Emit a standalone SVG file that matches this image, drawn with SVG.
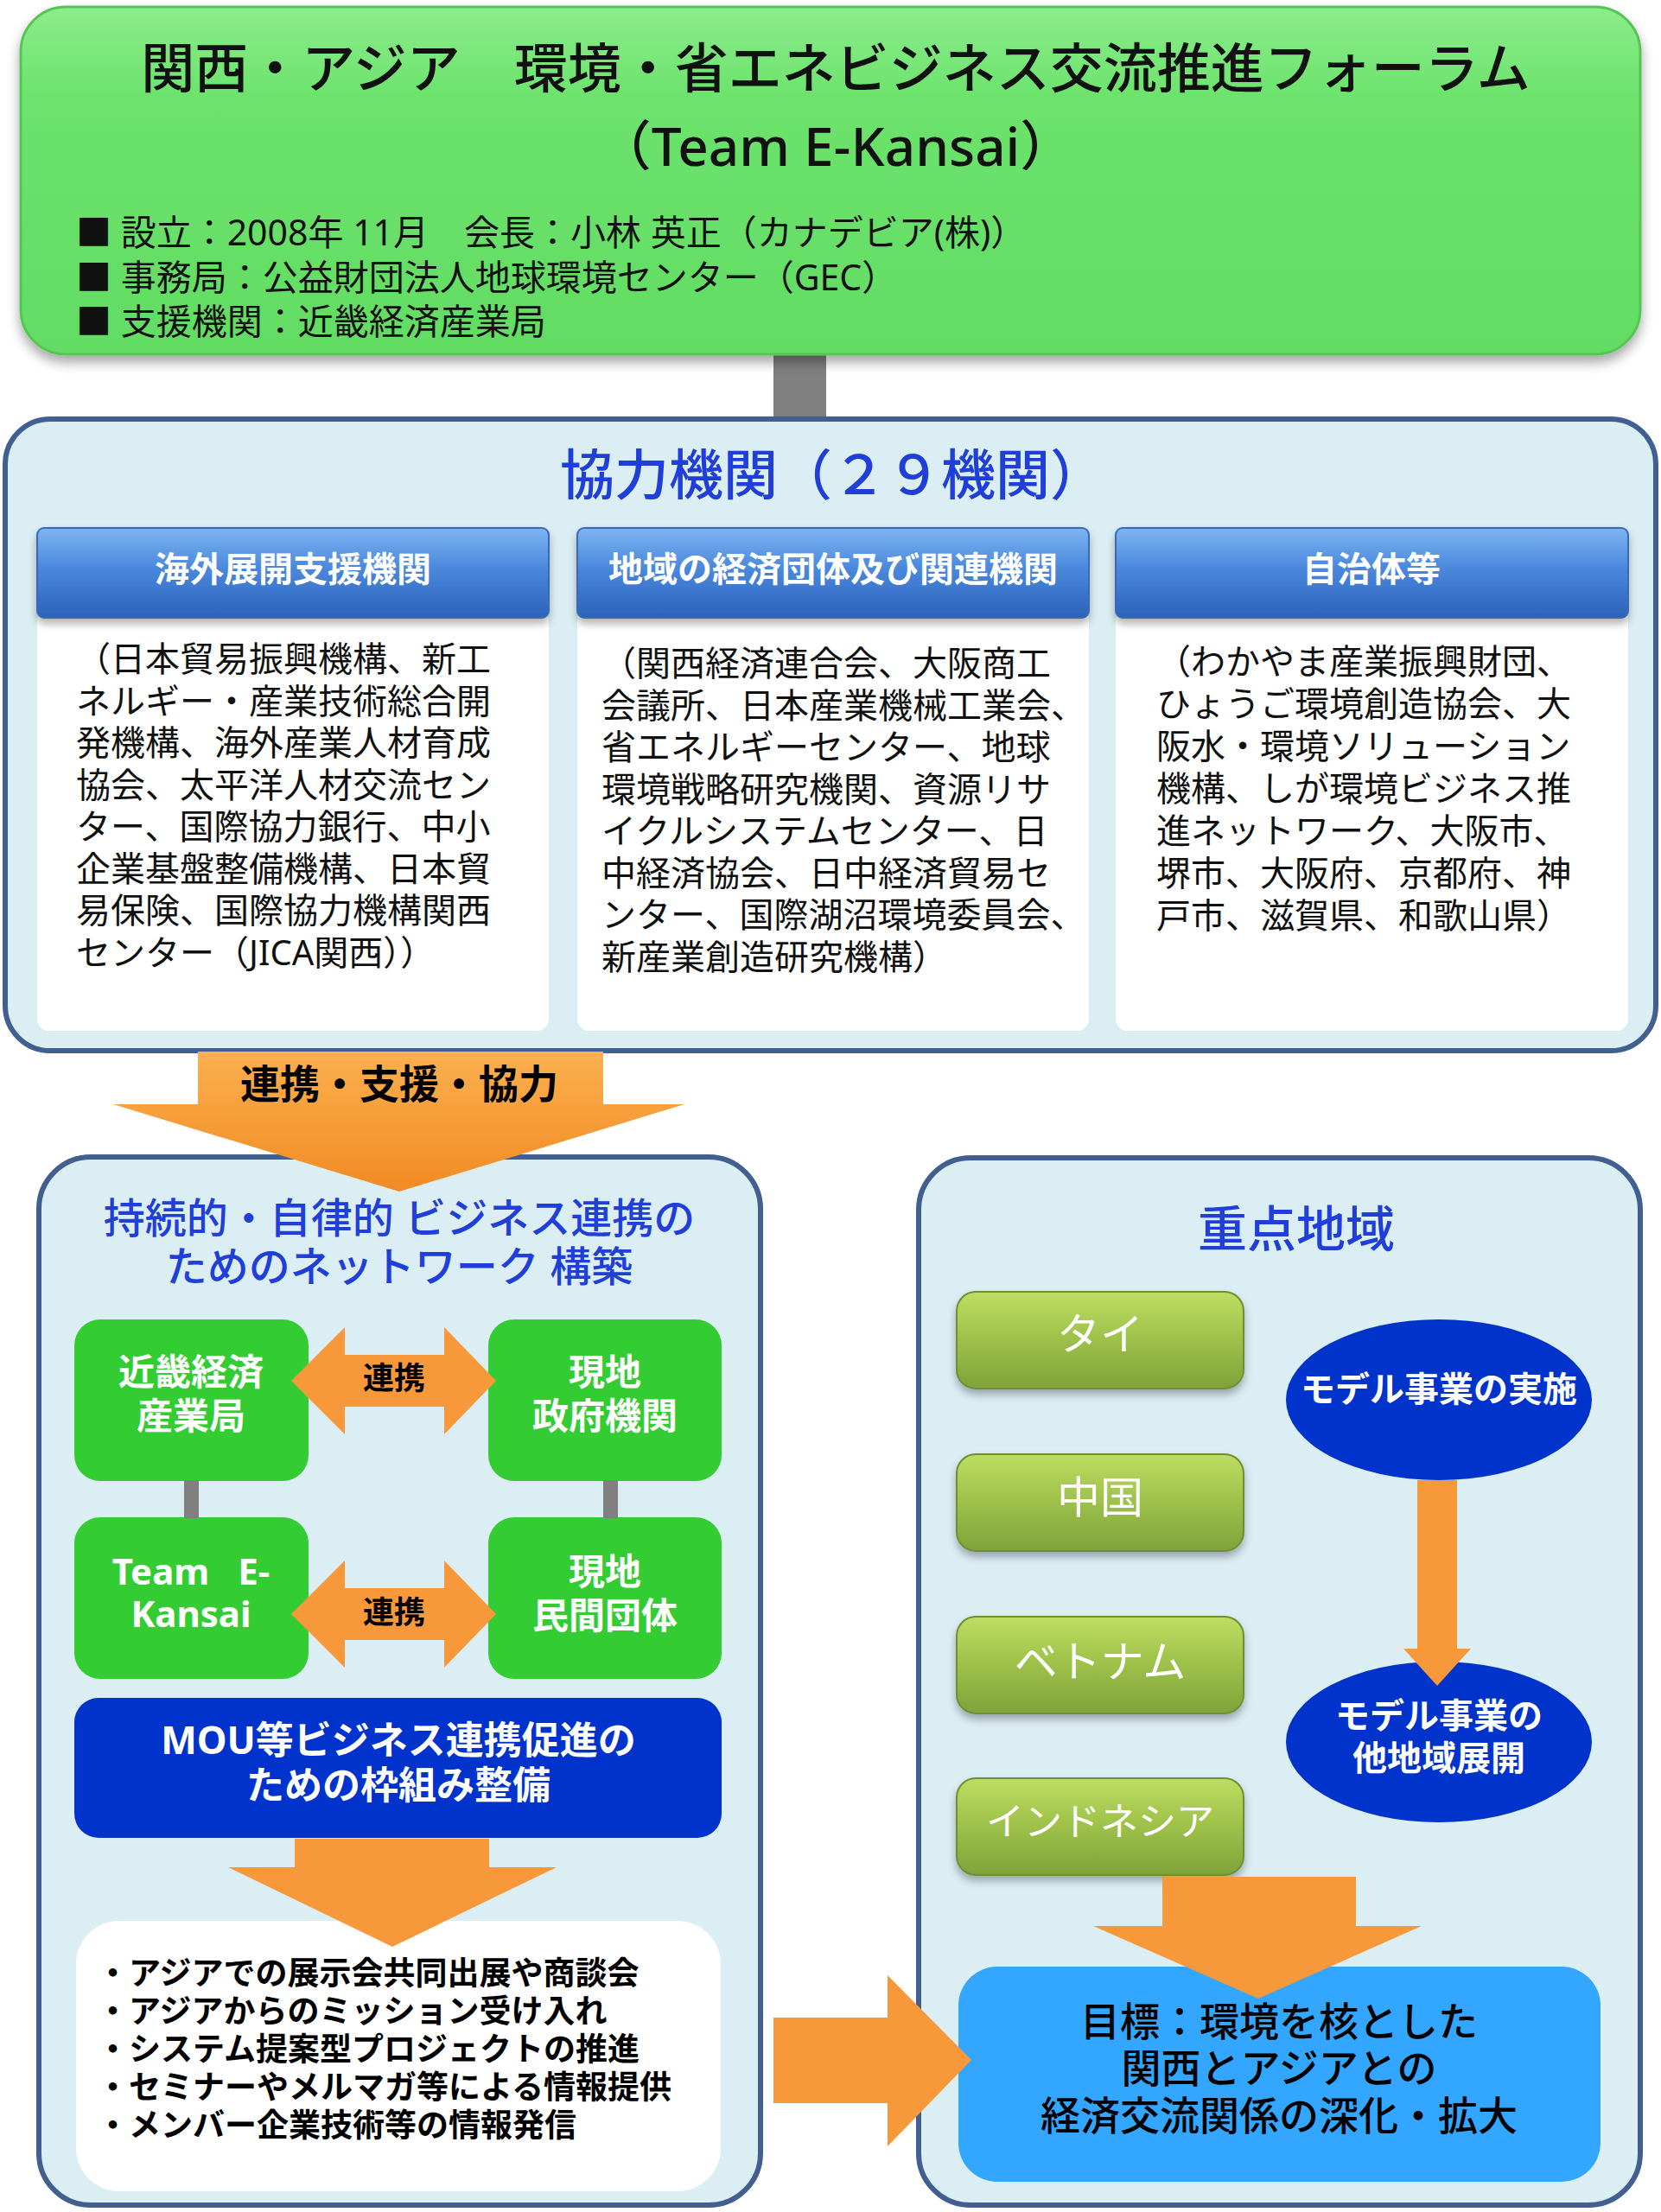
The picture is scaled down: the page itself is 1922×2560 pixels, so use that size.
<svg xmlns="http://www.w3.org/2000/svg" width="1922" height="2560" viewBox="0 0 1922 2560">
<defs>
<style>
.t{font-family:'Noto Sans','Noto Sans CJK JP',sans-serif}
.b{font-weight:bold}
.m{font-weight:500}
.c{text-anchor:middle}
.blue{fill:#1f3fd8}
.w{fill:#ffffff}
.k{fill:#000000}
.cont{fill:#dbeef4;stroke:#41608f;stroke-width:6}
.gbox{fill:#33cc33}
.orange{fill:#f7993a}
.gray{fill:#808080}
.body{fill:#ffffff}
.col{font-size:40px;fill:#111111}
</style>
<linearGradient id="gTop" x1="0" y1="0" x2="0" y2="1">
<stop offset="0" stop-color="#8cec8c"/>
<stop offset="0.25" stop-color="#6de36d"/>
<stop offset="1" stop-color="#62dc62"/>
</linearGradient>
<linearGradient id="gHead" x1="0" y1="0" x2="0" y2="1">
<stop offset="0" stop-color="#7db4f2"/>
<stop offset="0.45" stop-color="#4a88dc"/>
<stop offset="1" stop-color="#2c62bb"/>
</linearGradient>
<linearGradient id="gArrow" x1="0" y1="0" x2="0" y2="1">
<stop offset="0" stop-color="#fbb04f"/>
<stop offset="1" stop-color="#f18a22"/>
</linearGradient>
<linearGradient id="gCountry" x1="0" y1="0" x2="0" y2="1">
<stop offset="0" stop-color="#bedd62"/>
<stop offset="0.4" stop-color="#a3c64d"/>
<stop offset="1" stop-color="#7fa33a"/>
</linearGradient>
<filter id="sh" x="-10%" y="-10%" width="120%" height="130%">
<feDropShadow dx="0" dy="8" stdDeviation="7" flood-color="#000000" flood-opacity="0.35"/>
</filter>
<filter id="sh2" x="-10%" y="-10%" width="120%" height="130%">
<feDropShadow dx="0" dy="6" stdDeviation="5" flood-color="#000000" flood-opacity="0.3"/>
</filter>
</defs>

<rect width="1922" height="2560" fill="#ffffff"/>

<g id="connectors-back">
<rect class="gray" x="895" y="405" width="61" height="82"/>
</g>

<g id="forum">
<rect x="24" y="8" width="1874" height="402" rx="52" fill="url(#gTop)" stroke="#55c455" stroke-width="3" filter="url(#sh)"/>
<text class="t c m" x="967" y="102" font-size="62" fill="#111">関西・アジア　環境・省エネビジネス交流推進フォーラム</text>
<text class="t c m" x="967" y="192" font-size="62" fill="#111">（Team E-Kansai）</text>
<text class="t" x="88" y="284" font-size="41" fill="#111">■ 設立：2008年 11月　会長：小林 英正（カナデビア(株)）</text>
<text class="t" x="88" y="336" font-size="41" fill="#111">■ 事務局：公益財団法人地球環境センター（GEC）</text>
<text class="t" x="88" y="387" font-size="41" fill="#111">■ 支援機関：近畿経済産業局</text>
</g>

<g id="cooperation">
<rect class="cont" x="6" y="485" width="1910" height="731" rx="52"/>
<text class="t c m blue" x="963" y="572" font-size="63">協力機関（２９機関）</text>
</g>

<g id="col-overseas">
<rect class="body" x="43" y="705" width="592" height="488" rx="14"/>
<rect x="43" y="611" width="592" height="104" rx="8" fill="url(#gHead)" stroke="#3a6ab5" stroke-width="2" filter="url(#sh2)"/>
<text class="t b c w" x="339" y="673" font-size="40">海外展開支援機関</text>
<g class="t col">
<text x="88" y="777">（日本貿易振興機構、新工</text>
<text x="88" y="825.5">ネルギー・産業技術総合開</text>
<text x="88" y="874">発機構、海外産業人材育成</text>
<text x="88" y="922.5">協会、太平洋人材交流セン</text>
<text x="88" y="971">ター、国際協力銀行、中小</text>
<text x="88" y="1019.5">企業基盤整備機構、日本貿</text>
<text x="88" y="1068">易保険、国際協力機構関西</text>
<text x="88" y="1116.5">センター（JICA関西））</text>
</g>
</g>

<g id="col-regional">
<rect class="body" x="668" y="705" width="592" height="488" rx="14"/>
<rect x="668" y="611" width="592" height="104" rx="8" fill="url(#gHead)" stroke="#3a6ab5" stroke-width="2" filter="url(#sh2)"/>
<text class="t b c w" x="964" y="673" font-size="40">地域の経済団体及び関連機関</text>
<g class="t col">
<text x="696" y="782">（関西経済連合会、大阪商工</text>
<text x="696" y="830.5">会議所、日本産業機械工業会、</text>
<text x="696" y="879">省エネルギーセンター、地球</text>
<text x="696" y="927.5">環境戦略研究機関、資源リサ</text>
<text x="696" y="976">イクルシステムセンター、日</text>
<text x="696" y="1024.5">中経済協会、日中経済貿易セ</text>
<text x="696" y="1073">ンター、国際湖沼環境委員会、</text>
<text x="696" y="1121.5">新産業創造研究機構）</text>
</g>
</g>

<g id="col-local">
<rect class="body" x="1291" y="705" width="593" height="488" rx="14"/>
<rect x="1291" y="611" width="593" height="104" rx="8" fill="url(#gHead)" stroke="#3a6ab5" stroke-width="2" filter="url(#sh2)"/>
<text class="t b c w" x="1587" y="673" font-size="40">自治体等</text>
<g class="t col">
<text x="1338" y="780">（わかやま産業振興財団、</text>
<text x="1338" y="829">ひょうご環境創造協会、大</text>
<text x="1338" y="878">阪水・環境ソリューション</text>
<text x="1338" y="927">機構、しが環境ビジネス推</text>
<text x="1338" y="976">進ネットワーク、大阪市、</text>
<text x="1338" y="1025">堺市、大阪府、京都府、神</text>
<text x="1338" y="1074">戸市、滋賀県、和歌山県）</text>
</g>
</g>

<g id="network">
<rect class="cont" x="45" y="1339" width="835" height="1213" rx="60"/>
<text class="t c m blue" x="462" y="1427" font-size="48">持続的・自律的 ビジネス連携の</text>
<text class="t c m blue" x="462" y="1483" font-size="48">ためのネットワーク 構築</text>
</g>

<g id="node-kinki">
<rect class="gbox" x="86" y="1527" width="271" height="187" rx="30"/>
<text class="t b c w" x="221" y="1603" font-size="42">近畿経済</text>
<text class="t b c w" x="221" y="1654" font-size="42">産業局</text>
</g>
<g id="node-gov">
<rect class="gbox" x="565" y="1527" width="270" height="187" rx="30"/>
<text class="t b c w" x="700" y="1603" font-size="42">現地</text>
<text class="t b c w" x="700" y="1654" font-size="42">政府機関</text>
</g>
<g id="node-team">
<rect class="gbox" x="86" y="1756" width="271" height="187" rx="30"/>
<text class="t b c w" x="221" y="1834" font-size="42" word-spacing="22">Team E-</text>
<text class="t b c w" x="221" y="1883" font-size="42">Kansai</text>
</g>
<g id="node-private">
<rect class="gbox" x="565" y="1756" width="270" height="187" rx="30"/>
<text class="t b c w" x="700" y="1834" font-size="42">現地</text>
<text class="t b c w" x="700" y="1885" font-size="42">民間団体</text>
</g>
<g id="node-mou">
<rect x="86" y="1965" width="749" height="162" rx="28" fill="#0033cc"/>
<text class="t b c w" x="461" y="2030" font-size="44">MOU等ビジネス連携促進の</text>
<text class="t b c w" x="461" y="2082" font-size="44">ための枠組み整備</text>
</g>
<g id="node-activities">
<rect class="body" x="88" y="2223" width="746" height="313" rx="50"/>
<g class="t b k" font-size="37">
<text x="112" y="2297">・アジアでの展示会共同出展や商談会</text>
<text x="112" y="2341">・アジアからのミッション受け入れ</text>
<text x="112" y="2385">・システム提案型プロジェクトの推進</text>
<text x="112" y="2429">・セミナーやメルマガ等による情報提供</text>
<text x="112" y="2473">・メンバー企業技術等の情報発信</text>
</g>
</g>

<g id="regions">
<rect class="cont" x="1063" y="1340" width="835" height="1212" rx="60"/>
<text class="t c m blue" x="1500" y="1443" font-size="57">重点地域</text>
</g>
<g id="node-thai">
<rect x="1107" y="1495" width="332" height="112" rx="22" fill="url(#gCountry)" stroke="#6f8f32" stroke-width="2" filter="url(#sh2)"/>
<text class="t c w" x="1273" y="1562" font-size="50">タイ</text>
</g>
<g id="node-china">
<rect x="1107" y="1683" width="332" height="112" rx="22" fill="url(#gCountry)" stroke="#6f8f32" stroke-width="2" filter="url(#sh2)"/>
<text class="t c w" x="1273" y="1751" font-size="50">中国</text>
</g>
<g id="node-vietnam">
<rect x="1107" y="1871" width="332" height="112" rx="22" fill="url(#gCountry)" stroke="#6f8f32" stroke-width="2" filter="url(#sh2)"/>
<text class="t c w" x="1273" y="1941" font-size="50">ベトナム</text>
</g>
<g id="node-indonesia">
<rect x="1107" y="2058" width="332" height="112" rx="22" fill="url(#gCountry)" stroke="#6f8f32" stroke-width="2" filter="url(#sh2)"/>
<text class="t c w" x="1273" y="2124" font-size="44">インドネシア</text>
</g>
<g id="node-model">
<ellipse cx="1665" cy="1620" rx="177" ry="93" fill="#0033cc"/>
<text class="t b c w" x="1665" y="1622" font-size="40">モデル事業の実施</text>
</g>
<g id="node-expand">
<ellipse cx="1665" cy="2016" rx="177" ry="93" fill="#0033cc"/>
<text class="t b c w" x="1665" y="2000" font-size="40">モデル事業の</text>
<text class="t b c w" x="1665" y="2049" font-size="40">他地域展開</text>
</g>
<g id="node-goal">
<rect x="1109" y="2276" width="743" height="249" rx="45" fill="#33a6ff"/>
<text class="t c m k" x="1480" y="2356" font-size="46">目標：環境を核とした</text>
<text class="t c m k" x="1480" y="2410" font-size="46">関西とアジアとの</text>
<text class="t c m k" x="1480" y="2465" font-size="46">経済交流関係の深化・拡大</text>
</g>

<g id="connectors">
<rect class="gray" x="213" y="1713" width="17" height="44"/>
<rect class="gray" x="698" y="1713" width="17" height="44"/>
<polygon points="229,1217 698,1217 698,1278 792,1278 462,1379 131,1278 229,1278" fill="url(#gArrow)"/>
<text class="t b c k" x="462" y="1271" font-size="46">連携・支援・協力</text>
<polygon class="orange" points="337,1598 399,1536 399,1568 514,1568 514,1536 574,1598 514,1660 514,1628 399,1628 399,1660"/>
<text class="t b c k" x="456" y="1608" font-size="36">連携</text>
<polygon class="orange" points="337,1868 399,1806 399,1838 514,1838 514,1806 574,1868 514,1930 514,1898 399,1898 399,1930"/>
<text class="t b c k" x="456" y="1879" font-size="36">連携</text>
<polygon class="orange" points="341,2128 566,2128 566,2161 644,2161 454,2253 264,2161 341,2161"/>
<polygon class="orange" points="1640,1713 1686,1713 1686,1908 1702,1908 1663,1951 1624,1908 1640,1908"/>
<polygon class="orange" points="1345,2172 1569,2172 1569,2229 1645,2229 1456,2313 1265,2229 1345,2229"/>
<polygon class="orange" points="895,2335 1027,2335 1027,2286 1124,2384 1027,2484 1027,2434 895,2434"/>
</g>
</svg>
